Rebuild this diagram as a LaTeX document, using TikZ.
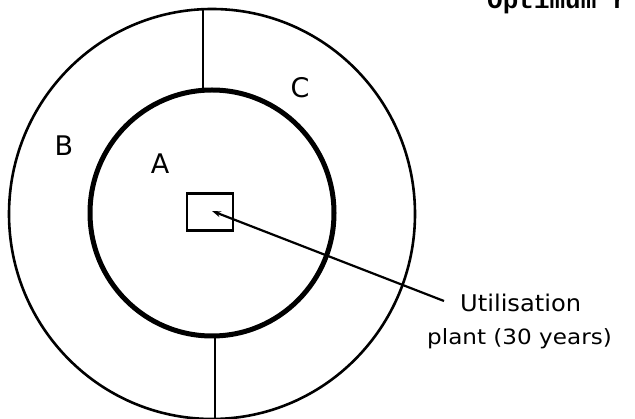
\documentclass[tikz,border=0pt]{standalone}
\usepackage{fontspec}
\newfontfamily\hand{DejaVu Sans}
\newfontfamily\handA[FakeStretch=1.05]{DejaVu Sans}
\newfontfamily\handB[FakeStretch=1.1]{DejaVu Sans}
\newfontfamily\typew{Liberation Mono}
\usetikzlibrary{shapes.geometric,arrows.meta}
\begin{document}
\begin{tikzpicture}[x=1pt,y=-1pt,
  ring/.style={draw, ellipse, inner sep=0pt},
  divider/.style={line width=1.8pt},
  letter/.style={font=\hand\fontsize{27}{27}\selectfont, inner sep=0pt},
  lab/.style={inner sep=0pt, anchor=west},
  pointer/.style={line width=2.2pt, -{Stealth[length=9pt,width=6pt]}}]
\useasboundingbox (0,0) rectangle (635,419);
\fill[white] (0,0) rectangle (635,419);
% outer and inner rings
\node[ring, line width=2.6pt, minimum width=406pt, minimum height=410pt] (outer) at (212,214) {};
\node[ring, line width=5pt, minimum width=244pt, minimum height=246pt] (inner) at (212,213) {};
% dividers
\coordinate (topout) at (203,10);
\coordinate (topin) at (203,91);
\coordinate (botin) at (215,336);
\coordinate (botout) at (215,422);
\draw[divider] (topout) -- (topin);
\draw[divider] (botin) -- (botout);
% plant square
\node[draw, line width=2.4pt, minimum width=46pt, minimum height=37pt, inner sep=0pt] (plant) at (210,212) {};
\coordinate (tip) at (212,211);
\coordinate (tail) at (444,301);
\draw[pointer] (tail) -- (tip);
% labels
\node[letter] (C) at (300,88) {C};
\node[letter] (B) at (64,146) {B};
\node[letter] (A) at (160,164) {A};
\node[lab, font=\handA\fontsize{23}{23}\selectfont] (l1) at (460,303) {Utilisation};
\node[lab, font=\handB\fontsize{21}{21}\selectfont] (l2) at (427,339) {plant (30 years)};
% cut-off heading
\node[font=\typew\bfseries\fontsize{26}{26}\selectfont, anchor=base west, inner sep=0pt] (head) at (487,9) {Optimum r};
\end{tikzpicture}
\end{document}
